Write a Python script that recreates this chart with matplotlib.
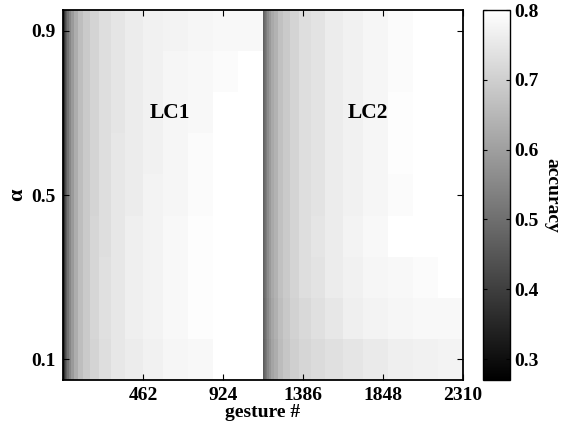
import numpy as np
import matplotlib
matplotlib.use('Agg')
from matplotlib import pyplot as plt

# alpha values (rows, bottom to top)
alphas = [0.1, 0.2, 0.3, 0.4, 0.5, 0.6, 0.7, 0.8, 0.9]

# column edges inside one learning curve (gesture offsets)
col_edges = [0, 6, 12, 17, 23, 35, 46, 64, 87, 116, 156, 208, 277, 358, 462, 578, 722, 866, 1011, 1155]

# accuracy for LC1, one list per alpha row
lc1 = [
    [0.32, 0.37, 0.43, 0.47, 0.51, 0.55, 0.59, 0.63, 0.665, 0.69, 0.71, 0.73, 0.75, 0.76, 0.77, 0.78, 0.785, 0.80, 0.80],
    [0.32, 0.37, 0.43, 0.47, 0.51, 0.55, 0.59, 0.63, 0.665, 0.69, 0.715, 0.735, 0.75, 0.765, 0.775, 0.785, 0.795, 0.80, 0.80],
    [0.32, 0.37, 0.43, 0.47, 0.51, 0.55, 0.59, 0.63, 0.665, 0.69, 0.715, 0.735, 0.75, 0.765, 0.775, 0.785, 0.795, 0.80, 0.80],
    [0.32, 0.37, 0.43, 0.47, 0.51, 0.55, 0.59, 0.63, 0.665, 0.69, 0.715, 0.73, 0.75, 0.765, 0.775, 0.785, 0.795, 0.80, 0.80],
    [0.32, 0.37, 0.43, 0.47, 0.51, 0.55, 0.59, 0.63, 0.665, 0.69, 0.71, 0.73, 0.75, 0.76, 0.775, 0.78, 0.79, 0.80, 0.80],
    [0.32, 0.37, 0.43, 0.47, 0.51, 0.55, 0.59, 0.63, 0.665, 0.69, 0.71, 0.73, 0.75, 0.76, 0.77, 0.78, 0.79, 0.80, 0.80],
    [0.32, 0.37, 0.43, 0.47, 0.51, 0.55, 0.59, 0.63, 0.665, 0.69, 0.71, 0.73, 0.745, 0.76, 0.77, 0.78, 0.785, 0.80, 0.80],
    [0.32, 0.37, 0.43, 0.47, 0.51, 0.55, 0.59, 0.63, 0.665, 0.69, 0.71, 0.73, 0.745, 0.76, 0.77, 0.78, 0.785, 0.79, 0.80],
    [0.32, 0.37, 0.43, 0.47, 0.51, 0.55, 0.59, 0.63, 0.665, 0.69, 0.71, 0.73, 0.745, 0.76, 0.77, 0.775, 0.78, 0.785, 0.785],
]

# accuracy for LC2
lc2 = [
    [0.46, 0.48, 0.50, 0.52, 0.55, 0.58, 0.61, 0.63, 0.66, 0.68, 0.70, 0.715, 0.725, 0.735, 0.745, 0.755, 0.765, 0.77, 0.775],
    [0.465, 0.485, 0.505, 0.525, 0.555, 0.585, 0.615, 0.635, 0.665, 0.685, 0.705, 0.72, 0.735, 0.75, 0.765, 0.775, 0.78, 0.785, 0.785],
    [0.47, 0.49, 0.51, 0.53, 0.56, 0.59, 0.62, 0.64, 0.67, 0.69, 0.71, 0.73, 0.74, 0.76, 0.77, 0.78, 0.785, 0.79, 0.80],
    [0.47, 0.49, 0.51, 0.53, 0.56, 0.59, 0.62, 0.64, 0.67, 0.69, 0.71, 0.73, 0.745, 0.76, 0.775, 0.785, 0.80, 0.80, 0.80],
    [0.47, 0.49, 0.51, 0.53, 0.56, 0.59, 0.62, 0.64, 0.67, 0.69, 0.71, 0.73, 0.74, 0.76, 0.77, 0.78, 0.79, 0.80, 0.80],
    [0.47, 0.49, 0.51, 0.53, 0.56, 0.59, 0.62, 0.64, 0.67, 0.69, 0.71, 0.73, 0.74, 0.76, 0.77, 0.78, 0.795, 0.80, 0.80],
    [0.47, 0.49, 0.51, 0.53, 0.56, 0.59, 0.62, 0.64, 0.67, 0.69, 0.71, 0.73, 0.74, 0.76, 0.77, 0.78, 0.795, 0.80, 0.80],
    [0.47, 0.49, 0.51, 0.53, 0.56, 0.59, 0.62, 0.64, 0.67, 0.69, 0.71, 0.73, 0.74, 0.76, 0.77, 0.78, 0.79, 0.80, 0.80],
    [0.47, 0.49, 0.51, 0.53, 0.56, 0.59, 0.62, 0.64, 0.67, 0.69, 0.71, 0.73, 0.74, 0.76, 0.77, 0.78, 0.79, 0.80, 0.80],
]

x_ticks = [462, 924, 1386, 1848, 2310]
y_ticks = [0.1, 0.5, 0.9]
cbar_ticks = [0.3, 0.4, 0.5, 0.6, 0.7, 0.8]
labels = ['LC1', 'LC2']

plt.rcParams['font.family'] = ['Liberation Serif', 'DejaVu Serif']
plt.rcParams['font.weight'] = 'bold'
plt.rcParams['font.size'] = 14

# build the grid
half = np.array(col_edges, dtype=float)
x_edges = np.concatenate([half, half[1:] + half[-1]])
a = np.array(alphas)
y_edges = np.concatenate([a - 0.05, [a[-1] + 0.05]])
acc = np.hstack([np.array(lc1), np.array(lc2)])

fig = plt.figure(figsize=(5.69, 4.30), dpi=100)
ax = fig.add_axes([63/569, 50/430, 400/569, 370/430])
cax = fig.add_axes([483/569, 50/430, 27/569, 370/430])

cmap = plt.get_cmap('gray')
mesh = ax.pcolormesh(x_edges, y_edges, acc, cmap=cmap, vmin=0.27, vmax=0.80, shading='flat')
ax.set_xlim(0, 2310)
ax.set_ylim(0.05, 0.95)
ax.set_xticks(x_ticks)
ax.set_yticks(y_ticks)
ax.set_xticklabels([str(t) for t in x_ticks])
ax.set_yticklabels([str(t) for t in y_ticks])
ax.tick_params(direction='in', top=True, right=True, length=4, width=0.8, pad=5)
ax.set_xlabel('gesture #', fontweight='bold', labelpad=0)
ax.set_ylabel('\u03b1', fontweight='bold', fontsize=16, labelpad=3)
for s in ax.spines.values():
    s.set_linewidth(1.3)

ax.text(1155 * 0.535, 0.7, labels[0], ha='center', va='center', fontsize=15.5, fontweight='bold')
ax.text(1155 * 1.525, 0.7, labels[1], ha='center', va='center', fontsize=15.5, fontweight='bold')

cb = fig.colorbar(mesh, cax=cax)
cb.set_ticks(cbar_ticks)
cb.set_ticklabels([str(t) for t in cbar_ticks])
cax.tick_params(direction='in', left=True, right=True, length=3, width=0.8, pad=3)
cb.outline.set_linewidth(1.0)
cb.set_label('accuracy', rotation=270, labelpad=16, fontweight='bold')

fig.savefig('out.png', dpi=100)
